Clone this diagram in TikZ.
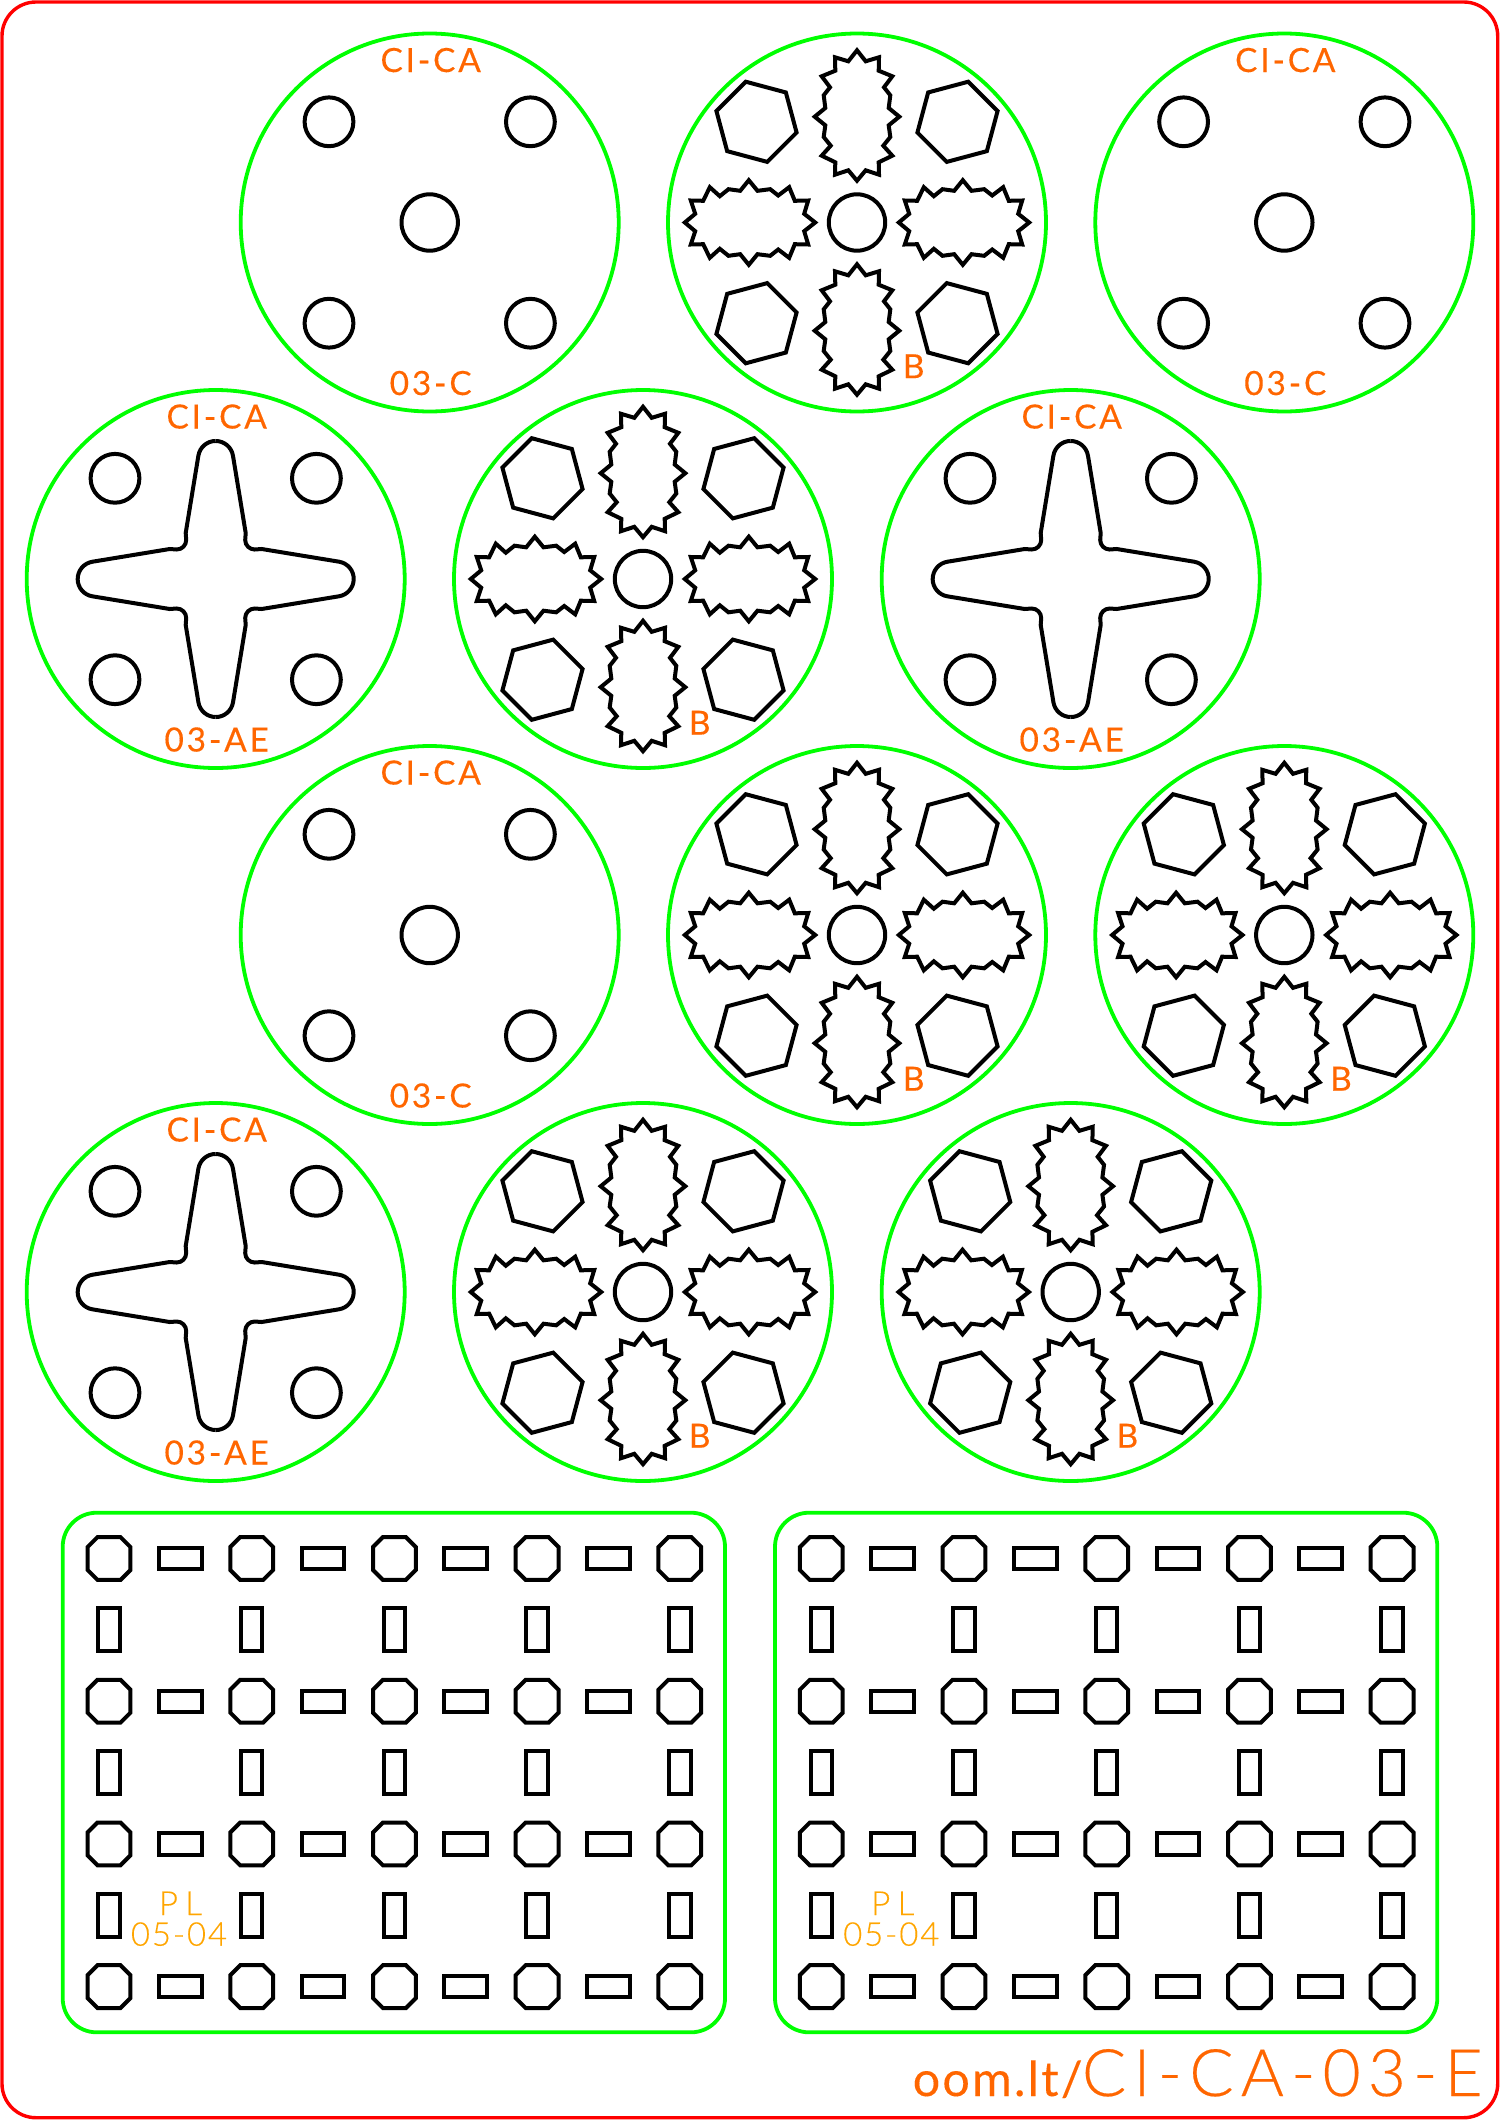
\documentclass[tikz,border=0pt]{standalone}
\usepackage{fontspec}
\newfontfamily\labelfont[LetterSpace=8.5,FakeBold=0.25]{Lato}
\newfontfamily\sitefont[LetterSpace=4.5,FakeBold=0.15]{Lato}
\newfontfamily\thinfont[LetterSpace=11,FakeBold=0.3]{Lato Light}
\newfontfamily\datefont[LetterSpace=6,FakeBold=0.3]{Lato Light}
\newfontfamily\plfont[LetterSpace=22,FakeBold=0.3]{Lato Light}
\definecolor{rimgreen}{RGB}{0,255,0}
\definecolor{markorange}{RGB}{255,102,0}
\definecolor{plateorange}{RGB}{255,165,0}
\tikzset{
  cut/.style={black, line width=2pt, line join=miter},
  rim/.style={rimgreen, line width=1.9pt},
  marktext/.style={inner sep=0pt, anchor=base, text=markorange, font=\labelfont\fontsize{16.7}{20}\selectfont},
  platetext/.style={inner sep=0pt, anchor=base, text=plateorange},
  holes/.pic={
    \draw[rim] (0,0) circle (189);
    \foreach \hx in {-100.7,100.7} \foreach \hy in {-100.7,100.7}
      \draw[cut] (\hx,\hy) circle (24.4);
    \node[marktext] (-top) at (1,150.5) {CI-CA};
  },
  plaindisc/.pic={
    \pic {holes};
    \draw[cut] (0,0) circle (28.2);
    \node[marktext] (-code) at (1,-172.5) {03-C};
  },
  crossdisc/.pic={
    \pic {holes};
    \foreach \a in {0,-90,-180,-270}
      \draw[cut, rotate=\a] (0,138) arc (90:9.4:17.5) -- (30,46) -- (29.5,39) arc (180:270:9.5)
        -- (46,30) -- (123.4,17.3) arc (80.6:0:17.5);
    \node[marktext] (-code) at (1,-172.5) {03-AE};
  },
  stardisc/.pic={
    \draw[rim] (0,0) circle (189);
    \draw[cut] (0,0) circle (28.2);
    \foreach \sx/\sy/\a in {0/107/0, 0/-107/0, 107/0/-90, -107/0/-90}
      \draw[cut, shift={(\sx,\sy)}, rotate=\a]
        (0,65.2) -- (8.7,54.2) -- (22,58.2) -- (21.7,44.8) -- (35.3,39.2) -- (27,28.2) -- (33.3,20.2)
        -- (31.7,7.5) -- (42.3,-1.2) -- (31.7,-9.8) -- (33.3,-21.5) -- (26.3,-30.2) -- (35.3,-40.2)
        -- (21.7,-46.8) -- (22,-59.2) -- (8.7,-54.8) -- (0,-65.2) -- (-8.7,-54.8) -- (-22,-59.2)
        -- (-21.7,-46.8) -- (-35.3,-40.2) -- (-26.3,-30.2) -- (-33.3,-21.5) -- (-31.7,-9.8) -- (-42.3,-1.2)
        -- (-31.7,7.5) -- (-33.3,20.2) -- (-27,28.2) -- (-35.3,39.2) -- (-21.7,44.8) -- (-22,58.2)
        -- (-8.7,54.2) -- cycle;
    \foreach \sx/\sy/\a in {-100.5/100.7/45, 100.5/100.7/15, -100.5/-100.7/15, 100.5/-100.7/45}
      \draw[cut, shift={(\sx,\sy)}] (\a:41.5) -- (\a+60:41.5) -- (\a+120:41.5) -- (\a+180:41.5)
        -- (\a+240:41.5) -- (\a+300:41.5) -- cycle;
    \node[marktext] (-part) at (56.7,-155.7) {B};
  },
  plate/.pic={
    \draw[rim, rounded corners=17pt] (-46.3,45.8) rectangle (616,-473.8);
    \foreach \c in {0,...,4} \foreach \r in {0,...,3}
      \draw[cut, shift={(\c*142.7,-\r*142.7)}] (-11.5,21.4) -- (11.5,21.4) -- (21.4,11.5) -- (21.4,-11.5)
        -- (11.5,-21.4) -- (-11.5,-21.4) -- (-21.4,-11.5) -- (-21.4,11.5) -- cycle;
    \foreach \c in {0,...,3} \foreach \r in {0,...,3}
      \draw[cut, shift={(\c*142.7+71.35,-\r*142.7)}] (-21.4,-10.7) rectangle (21.4,10.7);
    \foreach \c in {0,...,4} \foreach \r in {0,...,2}
      \draw[cut, shift={(\c*142.7,-\r*142.7-71.35)}] (-10.7,-21.4) rectangle (10.7,21.4);
    \node[platetext, font=\plfont\fontsize{16.6}{20}\selectfont] (-pl) at (71.5,-356.5) {PL};
    \node[platetext, font=\datefont\fontsize{16.4}{20}\selectfont] (-date) at (70,-387.2) {05-04};
  },
}
\begin{document}
\begin{tikzpicture}[x=0.5pt, y=0.5pt]
  \useasboundingbox (0,0) rectangle (1500,-2120);
  \draw[red, line width=1.7pt, rounded corners=17pt] (2,-2) rectangle (1497.7,-2117.7);

  \pic (a1) at (429.7,-222.5) {plaindisc};
  \pic (a2) at (857,-222.5) {stardisc};
  \pic (a3) at (1284.3,-222.5) {plaindisc};
  \pic (b1) at (215.7,-579) {crossdisc};
  \pic (b2) at (643,-579) {stardisc};
  \pic (b3) at (1070.7,-579) {crossdisc};
  \pic (c1) at (429.7,-935) {plaindisc};
  \pic (c2) at (857,-935) {stardisc};
  \pic (c3) at (1284.3,-935) {stardisc};
  \pic (d1) at (215.7,-1292) {crossdisc};
  \pic (d2) at (643,-1292) {stardisc};
  \pic (d3) at (1070.7,-1292) {stardisc};

  \pic (p1) at (109,-1558.5) {plate};
  \pic (p2) at (821.3,-1558.5) {plate};

  \node[inner sep=0pt, anchor=base east, text=markorange, font=\thinfont\fontsize{32.8}{40}\selectfont] (partname) at (1483,-2096) {CI-CA-03-E};
  \node[inner sep=0pt, anchor=base east, text=markorange, font=\sitefont\fontsize{24.2}{30}\selectfont] (site) at (1083,-2096) {oom.lt/};
\end{tikzpicture}
\end{document}
